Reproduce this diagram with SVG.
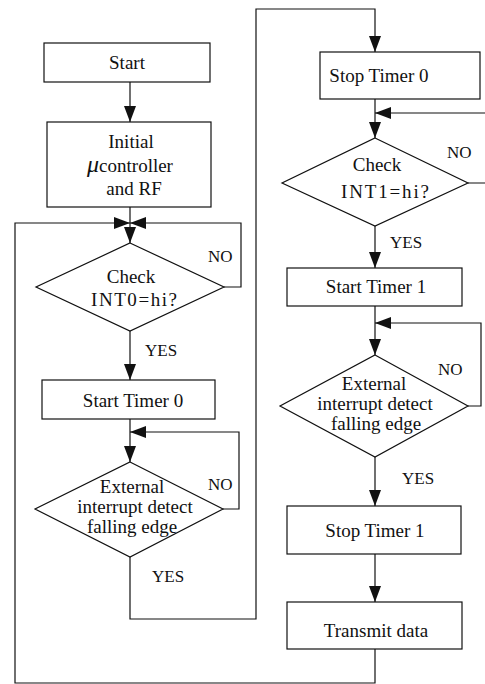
<svg xmlns="http://www.w3.org/2000/svg" width="485" height="684" viewBox="0 0 485 684">
  <style>
    .box { fill: #fff; stroke: #111; stroke-width: 1.2; }
    .link { fill: none; stroke: #111; stroke-width: 1.2; }
    text { font-family: "Liberation Serif", "Times New Roman", serif; font-size: 19px; fill: #111; }
    .c { text-anchor: middle; }
    .lbl { font-size: 17px; }
  </style>
  <defs>
    <marker id="arrow" markerUnits="userSpaceOnUse" markerWidth="16" markerHeight="12" refX="16" refY="6" orient="auto">
      <path d="M0,0 L16,6 L0,12 z" fill="#111"/>
    </marker>
  </defs>
  <rect width="485" height="684" fill="#fff"/>

  <!-- connectors -->
  <g id="connectors">
    <path class="link" d="M130,82 V122" marker-end="url(#arrow)"/>
    <path class="link" d="M130,207 V243" marker-end="url(#arrow)"/>
    <path class="link" d="M224,287 H241 V223 H130" marker-end="url(#arrow)"/>
    <path class="link" d="M375,649 V683 H15 V223 H130" marker-end="url(#arrow)"/>
    <path class="link" d="M130,331 V380" marker-end="url(#arrow)"/>
    <path class="link" d="M130,419 V462" marker-end="url(#arrow)"/>
    <path class="link" d="M223,509 H239 V432 H130" marker-end="url(#arrow)"/>
    <path class="link" d="M130,557 V619 H256 V9 H375 V52" marker-end="url(#arrow)"/>
    <path class="link" d="M375,99 V138" marker-end="url(#arrow)"/>
    <path class="link" d="M468,183 H492 V113 H375" marker-end="url(#arrow)"/>
    <path class="link" d="M375,226 V268" marker-end="url(#arrow)"/>
    <path class="link" d="M375,306 V355" marker-end="url(#arrow)"/>
    <path class="link" d="M468,406 H481 V323 H375" marker-end="url(#arrow)"/>
    <path class="link" d="M375,457 V506" marker-end="url(#arrow)"/>
    <path class="link" d="M375,554 V602" marker-end="url(#arrow)"/>
    <text class="lbl" x="208" y="262">NO</text>
    <text class="lbl" x="145" y="356">YES</text>
    <text class="lbl" x="208" y="490">NO</text>
    <text class="lbl" x="152" y="582">YES</text>
    <text class="lbl" x="447" y="158">NO</text>
    <text class="lbl" x="390" y="248">YES</text>
    <text class="lbl" x="438" y="375">NO</text>
    <text class="lbl" x="402" y="484">YES</text>
  </g>

  <!-- left column -->
  <g id="start">
    <rect class="box" x="44" y="43" width="166" height="39"/>
    <text class="c" x="127" y="69">Start</text>
  </g>
  <g id="init">
    <rect class="box" x="47" y="122" width="164" height="85"/>
    <text class="c" x="131" y="148">Initial</text>
    <text class="c" x="130" y="172"><tspan font-style="italic" font-size="24">μ</tspan>controller</text>
    <text class="c" x="134" y="195">and RF</text>
  </g>
  <g id="check-int0">
    <polygon class="box" points="130,243 224,287 130,331 36,287"/>
    <text class="c" x="131" y="283">Check</text>
    <text class="c" x="134" y="306" textLength="86" lengthAdjust="spacing">INT0=hi?</text>
  </g>
  <g id="start-timer0">
    <rect class="box" x="42" y="380" width="173" height="39"/>
    <text class="c" x="133" y="407">Start Timer 0</text>
  </g>
  <g id="edge0">
    <polygon class="box" points="130,462 223,509 130,557 35,509"/>
    <text class="c" x="132" y="493">External</text>
    <text class="c" x="135" y="513">interrupt detect</text>
    <text class="c" x="132" y="533">falling edge</text>
  </g>

  <!-- right column -->
  <g id="stop-timer0">
    <rect class="box" x="320" y="52" width="160" height="47"/>
    <text class="c" x="379" y="82">Stop Timer 0</text>
  </g>
  <g id="check-int1">
    <polygon class="box" points="375,138 468,183 375,226 282,183"/>
    <text class="c" x="377" y="171">Check</text>
    <text class="c" x="385" y="198" textLength="88" lengthAdjust="spacing">INT1=hi?</text>
  </g>
  <g id="start-timer1">
    <rect class="box" x="287" y="268" width="175" height="38"/>
    <text class="c" x="376" y="293">Start Timer 1</text>
  </g>
  <g id="edge1">
    <polygon class="box" points="375,355 468,406 375,457 280,406"/>
    <text class="c" x="374" y="390">External</text>
    <text class="c" x="375" y="410">interrupt detect</text>
    <text class="c" x="376" y="430">falling edge</text>
  </g>
  <g id="stop-timer1">
    <rect class="box" x="287" y="506" width="174" height="48"/>
    <text class="c" x="375" y="537">Stop Timer 1</text>
  </g>
  <g id="transmit">
    <rect class="box" x="287" y="602" width="175" height="47"/>
    <text class="c" x="376" y="637">Transmit data</text>
  </g>
</svg>
